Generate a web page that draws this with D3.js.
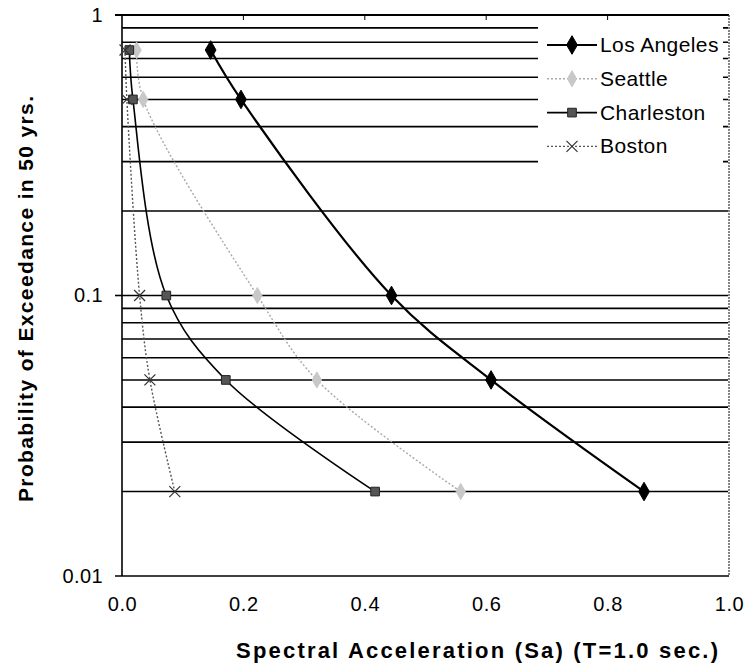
<!DOCTYPE html>
<html><head><meta charset="utf-8">
<script src="https://cdn.jsdelivr.net/npm/d3@7"></script>
<style>
html,body{margin:0;padding:0;background:#fff;}
svg{display:block;font-family:"Liberation Sans",Arial,Helvetica,sans-serif;}
</style></head>
<body><svg id="c" width="747" height="670"></svg>
<script>
// ---- data ----
const probabilities = [0.75, 0.5, 0.1, 0.05, 0.02];
const seriesNames = ["Los Angeles", "Seattle", "Charleston", "Boston"];
const losAngeles = [0.146, 0.196, 0.444, 0.608, 0.860];
const seattle    = [0.024, 0.035, 0.223, 0.321, 0.558];
const charleston = [0.012, 0.018, 0.073, 0.171, 0.417];
const boston     = [0.005, 0.008, 0.029, 0.046, 0.087];
const xTicks = [0, 0.2, 0.4, 0.6, 0.8, 1.0];
const xTickLabels = ["0.0", "0.2", "0.4", "0.6", "0.8", "1.0"];
const yTicks = [1, 0.1, 0.01];
const yTickLabels = ["1", "0.1", "0.01"];
const gridValues = [0.9,0.8,0.7,0.6,0.5,0.4,0.3,0.2,0.1,0.09,0.08,0.07,0.06,0.05,0.04,0.03,0.02];
const xTitle = "Spectral Acceleration (Sa) (T=1.0 sec.)";
const yTitle = "Probability of Exceedance in 50 yrs.";

const L = 122, R = 729, T = 15, B = 576;
const svg = d3.select("#c");
const x = d3.scaleLinear().domain([0, 1]).range([L, R]);
const y = d3.scaleLog().domain([0.01, 1]).range([B, T]);

// gridlines
svg.append("g").selectAll("line").data(gridValues).join("line")
  .attr("x1", L).attr("x2", R - 1)
  .attr("y1", d => y(d)).attr("y2", d => y(d))
  .attr("stroke", "#000").attr("stroke-width", 1.6);

// legend background (hides gridlines)
svg.append("rect").attr("x", 538).attr("y", 22).attr("width", 185).attr("height", 160).attr("fill", "#fff");

// frame
svg.append("line").attr("x1", L - 7).attr("x2", R).attr("y1", T).attr("y2", T).attr("stroke", "#000").attr("stroke-width", 1.8);
svg.append("line").attr("x1", L - 7).attr("x2", R).attr("y1", B).attr("y2", B).attr("stroke", "#000").attr("stroke-width", 1.6);
svg.append("line").attr("x1", L).attr("x2", L).attr("y1", T).attr("y2", B).attr("stroke", "#000").attr("stroke-width", 1.6);
svg.append("line").attr("x1", R).attr("x2", R).attr("y1", T).attr("y2", B).attr("stroke", "#444").attr("stroke-width", 1.3).attr("stroke-dasharray", "2,1");
svg.append("line").attr("x1", L - 7).attr("x2", L).attr("y1", y(0.1)).attr("y2", y(0.1)).attr("stroke", "#000").attr("stroke-width", 1.6);
// small ticks under the top edge
svg.append("g").selectAll("line").data(xTicks.slice(1, -1)).join("line")
  .attr("x1", d => x(d)).attr("x2", d => x(d)).attr("y1", T).attr("y2", T + 5)
  .attr("stroke", "#000").attr("stroke-width", 1);

// axes labels via d3 axes (domain hidden)
const xAxis = d3.axisBottom(x).tickValues(xTicks).tickFormat((d, i) => xTickLabels[i]).tickSize(0).tickPadding(21);
const gx = svg.append("g").attr("transform", `translate(0,${B})`).call(xAxis);
gx.select(".domain").remove();
gx.selectAll("text").attr("font-size", 20).attr("letter-spacing", 0.6).attr("fill", "#000").attr("font-family", "Liberation Sans, Arial, sans-serif");

const yAxis = d3.axisLeft(y).tickValues(yTicks).tickFormat((d, i) => yTickLabels[i]).tickSize(0).tickPadding(19);
const gy = svg.append("g").attr("transform", `translate(${L},0)`).call(yAxis);
gy.select(".domain").remove();
gy.selectAll("text").attr("font-size", 20).attr("letter-spacing", 0.4).attr("fill", "#000").attr("font-family", "Liberation Sans, Arial, sans-serif");

// titles
svg.append("text").attr("x", 236).attr("y", 658).attr("text-anchor", "start")
  .attr("font-size", 22).attr("font-weight", "bold")
  .attr("textLength", 482).attr("lengthAdjust", "spacing").text(xTitle);
svg.append("text").attr("transform", "translate(33,502) rotate(-90)").attr("text-anchor", "start")
  .attr("font-size", 21).attr("font-weight", "bold")
  .attr("textLength", 406).attr("lengthAdjust", "spacing").text(yTitle);

// series
const styles = [
  {data: losAngeles, stroke: "#000", width: 2.2, dash: null, marker: "diamond", fill: "#000", size: 100},
  {data: seattle, stroke: "#a8a8a8", width: 1.4, dash: "2,2", marker: "diamond", fill: "#c8c8c8", size: 75},
  {data: charleston, stroke: "#000", width: 1.6, dash: null, marker: "square", fill: "#555", size: 75},
  {data: boston, stroke: "#555", width: 1.4, dash: "2,2", marker: "x", fill: "none", size: 0}
];
const line = d3.line().x(d => x(d[0])).y(d => y(d[1])).curve(d3.curveCatmullRom.alpha(0.5));

function drawMarker(g, s, cx, cy) {
  if (s.marker === "x") {
    const r = 5.5;
    g.append("path").attr("d", `M${cx-r},${cy-r}L${cx+r},${cy+r}M${cx-r},${cy+r}L${cx+r},${cy-r}`)
      .attr("stroke", "#333").attr("stroke-width", 1.2).attr("fill", "none");
  } else {
    const sym = s.marker === "diamond" ? d3.symbolDiamond : d3.symbolSquare;
    g.append("path").attr("d", d3.symbol().type(sym).size(s.size)())
      .attr("transform", `translate(${cx},${cy})`)
      .attr("fill", s.fill).attr("stroke", s.marker === "square" ? "#222" : s.fill).attr("stroke-width", 1);
  }
}

styles.forEach(s => {
  const pts = s.data.map((v, i) => [v, probabilities[i]]);
  const g = svg.append("g");
  g.append("path").attr("d", line(pts)).attr("fill", "none")
    .attr("stroke", s.stroke).attr("stroke-width", s.width).attr("stroke-dasharray", s.dash);
  pts.forEach(p => drawMarker(g, s, x(p[0]), y(p[1])));
});

// legend
const lg = svg.append("g");
seriesNames.forEach((name, i) => {
  const cy = 45 + i * 33.8;
  const s = styles[i];
  lg.append("line").attr("x1", 547).attr("x2", 597).attr("y1", cy).attr("y2", cy)
    .attr("stroke", s.stroke).attr("stroke-width", s.width).attr("stroke-dasharray", s.dash);
  drawMarker(lg, s, 572, cy);
  lg.append("text").attr("x", 600).attr("y", cy + 7).attr("font-size", 21).attr("letter-spacing", 0.4).attr("fill", "#000").text(name);
});
</script></body></html>
